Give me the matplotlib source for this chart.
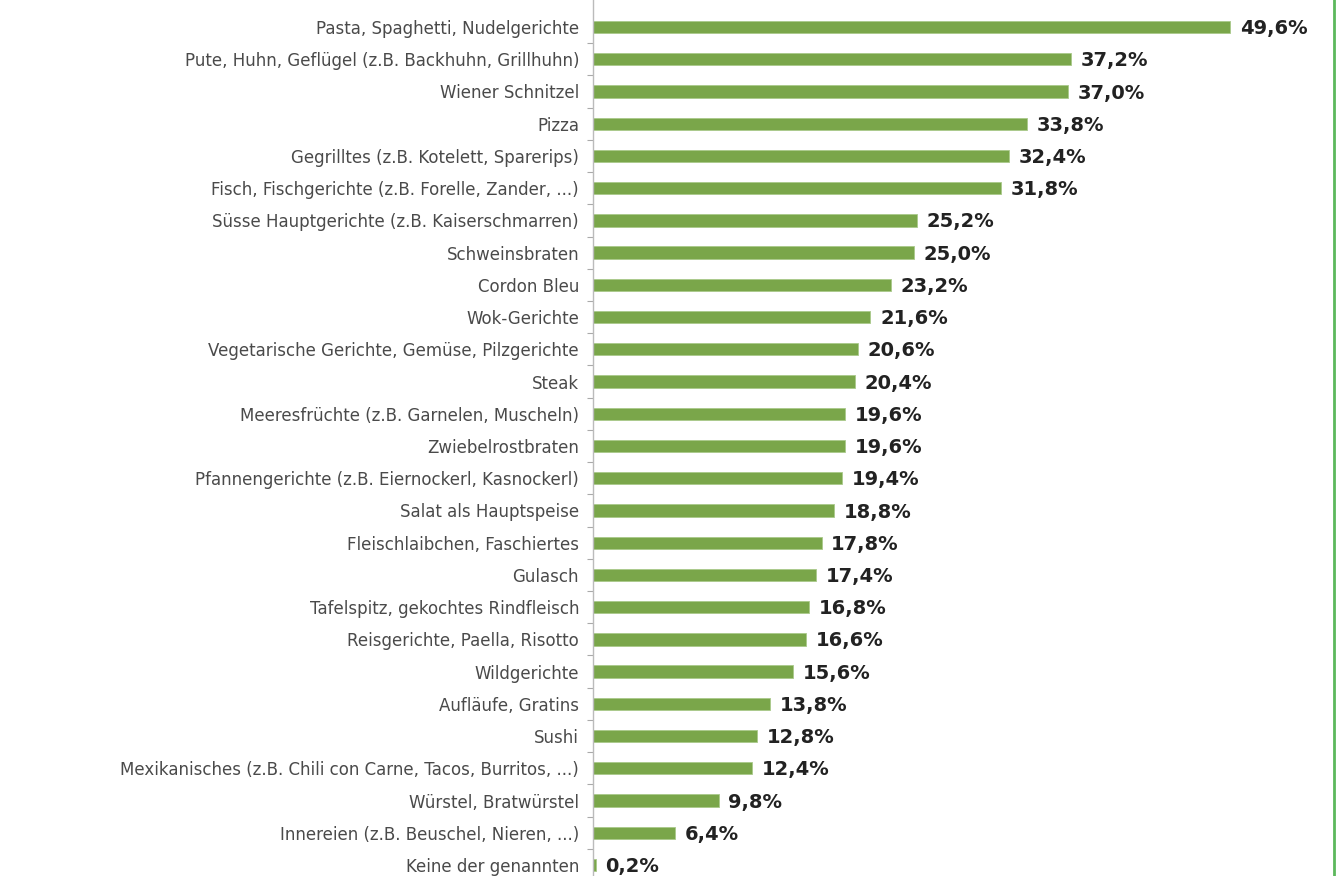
import matplotlib.pyplot as plt

plt.rcParams['font.family'] = ['DejaVu Sans']

categories = [
    "Pasta, Spaghetti, Nudelgerichte",
    "Pute, Huhn, Geflügel (z.B. Backhuhn, Grillhuhn)",
    "Wiener Schnitzel",
    "Pizza",
    "Gegrilltes (z.B. Kotelett, Sparerips)",
    "Fisch, Fischgerichte (z.B. Forelle, Zander, ...)",
    "Süsse Hauptgerichte (z.B. Kaiserschmarren)",
    "Schweinsbraten",
    "Cordon Bleu",
    "Wok-Gerichte",
    "Vegetarische Gerichte, Gemüse, Pilzgerichte",
    "Steak",
    "Meeresfrüchte (z.B. Garnelen, Muscheln)",
    "Zwiebelrostbraten",
    "Pfannengerichte (z.B. Eiernockerl, Kasnockerl)",
    "Salat als Hauptspeise",
    "Fleischlaibchen, Faschiertes",
    "Gulasch",
    "Tafelspitz, gekochtes Rindfleisch",
    "Reisgerichte, Paella, Risotto",
    "Wildgerichte",
    "Aufläufe, Gratins",
    "Sushi",
    "Mexikanisches (z.B. Chili con Carne, Tacos, Burritos, ...)",
    "Würstel, Bratwürstel",
    "Innereien (z.B. Beuschel, Nieren, ...)",
    "Keine der genannten",
]
values = [49.6, 37.2, 37.0, 33.8, 32.4, 31.8, 25.2, 25.0, 23.2, 21.6, 20.6,
          20.4, 19.6, 19.6, 19.4, 18.8, 17.8, 17.4, 16.8, 16.6, 15.6, 13.8,
          12.8, 12.4, 9.8, 6.4, 0.2]

fig = plt.figure(figsize=(13.39, 8.76), dpi=100)
ax = fig.add_axes([593 / 1339, 0, (1334 - 593) / 1339, 1])

pos = list(range(len(categories)))
ax.barh(pos, values, height=0.38, color="#7aa64a", edgecolor="#a9c98a", linewidth=0.6)

# value labels to the right of each bar
for p, v in zip(pos, values):
    ax.text(v + 0.75, p + 0.05, ("%.1f%%" % v).replace(".", ","), va="center", ha="left",
            fontsize=14, fontweight="bold", color="#222222")

ax.set_xlim(0, 57.7)
ax.set_ylim(26 + 11 / 32.23, -27 / 32.23)

ax.set_yticks(pos)
ax.set_yticklabels(categories, fontsize=12, color="#4a4a4a")
ax.set_yticks([p + 0.5 for p in pos[:-1]], minor=True)
ax.tick_params(axis="y", which="major", length=0, pad=10)
ax.tick_params(axis="y", which="minor", length=4, color="#aaaaaa", width=0.8)
ax.set_xticks([])

for s in ["top", "bottom"]:
    ax.spines[s].set_visible(False)
ax.spines["left"].set_color("#bbbbbb")
ax.spines["left"].set_linewidth(1)
ax.spines["right"].set_color("#5cb85c")
ax.spines["right"].set_linewidth(2)

fig.savefig("out.png", dpi=100)
